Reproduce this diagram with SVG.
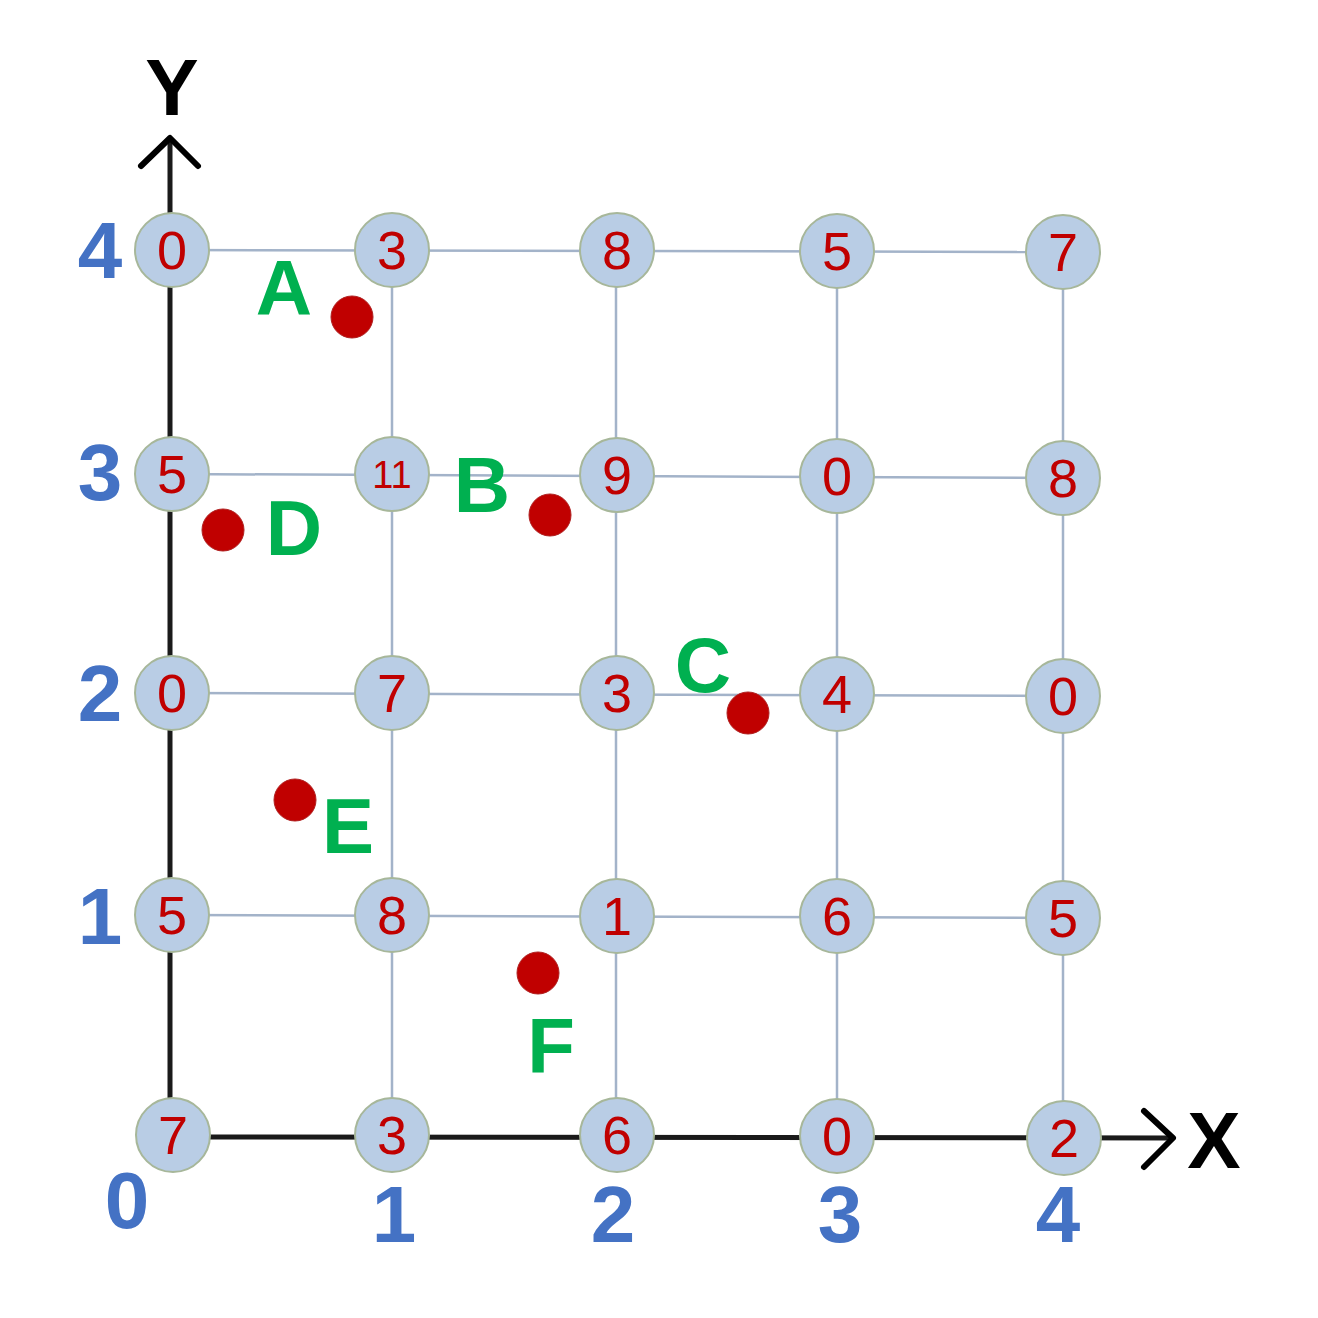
<svg xmlns="http://www.w3.org/2000/svg" width="1318" height="1318" viewBox="0 0 1318 1318">
<style>
.grid{stroke:#A3B3C9;stroke-width:2.5;fill:none}
.axis{stroke:#1a1a1a;stroke-width:5;fill:none}
.arrow{stroke:#000;stroke-width:6;fill:none;stroke-linecap:round;stroke-linejoin:round}
.node circle{fill:#B9CDE5;stroke:#A7B79A;stroke-width:2}
.node text{font-family:"Liberation Sans",Arial,sans-serif;font-size:54px;fill:#C00000;text-anchor:middle}
.node text.sm{font-size:38px}
.ax{font-family:"Liberation Sans",Arial,sans-serif;font-weight:bold;font-size:80px;fill:#4472C4;text-anchor:middle}
.axn{font-family:"Liberation Sans",Arial,sans-serif;font-weight:bold;font-size:80px;fill:#000;text-anchor:middle}
.pt{fill:#C00000;stroke:#B02020;stroke-width:1}
.lbl{font-family:"Liberation Sans",Arial,sans-serif;font-weight:bold;font-size:78px;fill:#00B050;text-anchor:middle}
</style>
<rect width="1318" height="1318" fill="#fff"/>
<g id="connectors">
<line class="grid" x1="172" y1="250" x2="1063" y2="252"/>
<line class="grid" x1="172" y1="474" x2="1063" y2="478"/>
<line class="grid" x1="172" y1="693" x2="1063" y2="696"/>
<line class="grid" x1="172" y1="915" x2="1063" y2="918"/>
<line class="grid" x1="392" y1="250" x2="392" y2="1135"/>
<line class="grid" x1="616" y1="250" x2="616" y2="1135"/>
<line class="grid" x1="837" y1="250" x2="837" y2="1135"/>
<line class="grid" x1="1063" y1="252" x2="1063" y2="1137"/>
<line class="axis" x1="170" y1="140" x2="170" y2="1135"/>
<line class="axis" x1="172" y1="1137" x2="1172" y2="1138"/>
<polyline class="arrow" points="141,166 170,138 198,166"/>
<polyline class="arrow" points="1144,1111 1173,1138 1144,1167"/>
</g>
<text class="axn" x="172" y="115">Y</text>
<text class="axn" x="1214" y="1168">X</text>
<text class="ax" x="100" y="278">4</text>
<text class="ax" x="100" y="500">3</text>
<text class="ax" x="100" y="721">2</text>
<text class="ax" x="100" y="944">1</text>
<text class="ax" x="127" y="1228">0</text>
<text class="ax" x="394" y="1242">1</text>
<text class="ax" x="613" y="1242">2</text>
<text class="ax" x="840" y="1242">3</text>
<text class="ax" x="1058" y="1242">4</text>
<g id="n04" class="node"><circle cx="172" cy="250" r="37"/><text x="172" y="269">0</text></g>
<g id="n14" class="node"><circle cx="392" cy="250" r="37"/><text x="392" y="269">3</text></g>
<g id="n24" class="node"><circle cx="617" cy="250" r="37"/><text x="617" y="269">8</text></g>
<g id="n34" class="node"><circle cx="837" cy="251" r="37"/><text x="837" y="270">5</text></g>
<g id="n44" class="node"><circle cx="1063" cy="252" r="37"/><text x="1063" y="271">7</text></g>
<g id="n03" class="node"><circle cx="172" cy="474" r="37"/><text x="172" y="493">5</text></g>
<g id="n13" class="node"><circle cx="392" cy="474" r="37"/><text class="sm" x="392" y="488">11</text></g>
<g id="n23" class="node"><circle cx="617" cy="475" r="37"/><text x="617" y="494">9</text></g>
<g id="n33" class="node"><circle cx="837" cy="476" r="37"/><text x="837" y="495">0</text></g>
<g id="n43" class="node"><circle cx="1063" cy="478" r="37"/><text x="1063" y="497">8</text></g>
<g id="n02" class="node"><circle cx="172" cy="693" r="37"/><text x="172" y="712">0</text></g>
<g id="n12" class="node"><circle cx="392" cy="693" r="37"/><text x="392" y="712">7</text></g>
<g id="n22" class="node"><circle cx="617" cy="693" r="37"/><text x="617" y="712">3</text></g>
<g id="n32" class="node"><circle cx="837" cy="694" r="37"/><text x="837" y="713">4</text></g>
<g id="n42" class="node"><circle cx="1063" cy="696" r="37"/><text x="1063" y="715">0</text></g>
<g id="n01" class="node"><circle cx="172" cy="915" r="37"/><text x="172" y="934">5</text></g>
<g id="n11" class="node"><circle cx="392" cy="915" r="37"/><text x="392" y="934">8</text></g>
<g id="n21" class="node"><circle cx="617" cy="916" r="37"/><text x="617" y="935">1</text></g>
<g id="n31" class="node"><circle cx="837" cy="916" r="37"/><text x="837" y="935">6</text></g>
<g id="n41" class="node"><circle cx="1063" cy="918" r="37"/><text x="1063" y="937">5</text></g>
<g id="n00" class="node"><circle cx="173" cy="1135" r="37"/><text x="173" y="1154">7</text></g>
<g id="n10" class="node"><circle cx="392" cy="1135" r="37"/><text x="392" y="1154">3</text></g>
<g id="n20" class="node"><circle cx="617" cy="1135" r="37"/><text x="617" y="1154">6</text></g>
<g id="n30" class="node"><circle cx="837" cy="1136" r="37"/><text x="837" y="1155">0</text></g>
<g id="n40" class="node"><circle cx="1064" cy="1138" r="37"/><text x="1064" y="1157">2</text></g>
<g id="pA"><circle class="pt" cx="352" cy="317" r="21"/><text class="lbl" x="284" y="315">A</text></g>
<g id="pB"><circle class="pt" cx="550" cy="515" r="21"/><text class="lbl" x="482" y="512">B</text></g>
<g id="pC"><circle class="pt" cx="748" cy="713" r="21"/><text class="lbl" x="703" y="692">C</text></g>
<g id="pD"><circle class="pt" cx="223" cy="530" r="21"/><text class="lbl" x="294" y="555">D</text></g>
<g id="pE"><circle class="pt" cx="295" cy="800" r="21"/><text class="lbl" x="348" y="853">E</text></g>
<g id="pF"><circle class="pt" cx="538" cy="973" r="21"/><text class="lbl" x="551" y="1073">F</text></g>
</svg>
